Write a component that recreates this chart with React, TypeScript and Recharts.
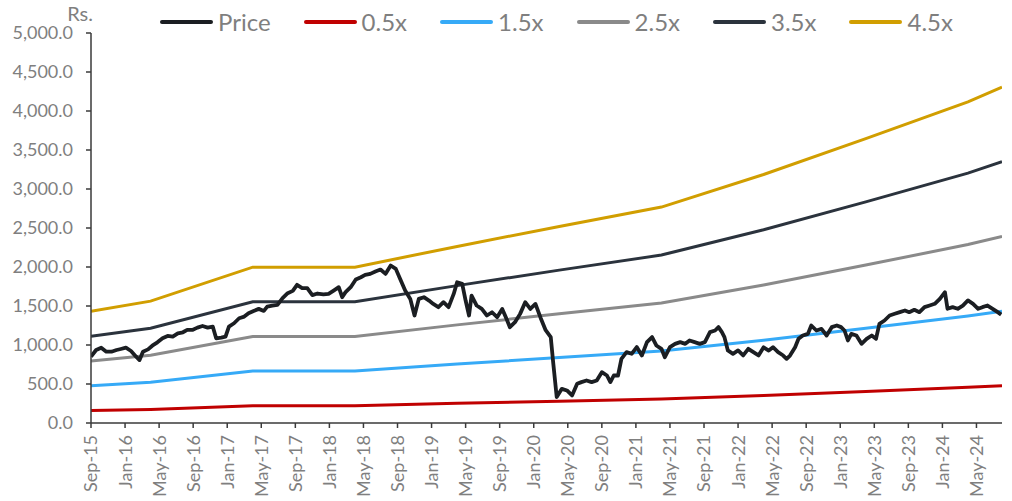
import { LineChart, Line, XAxis, YAxis } from "recharts";

// x positions are months counted from Sep-2015
const tickMonths = [0, 4, 8, 12, 16, 20, 24, 28, 32, 36, 40, 44, 48, 52, 56, 60, 64, 68, 72, 76, 80, 84, 88, 92, 96, 100, 104];
const tickLabels = [
  "Sep-15", "Jan-16", "May-16", "Sep-16", "Jan-17", "May-17", "Sep-17", "Jan-18", "May-18",
  "Sep-18", "Jan-19", "May-19", "Sep-19", "Jan-20", "May-20", "Sep-20", "Jan-21", "May-21",
  "Sep-21", "Jan-22", "May-22", "Sep-22", "Jan-23", "May-23", "Sep-23", "Jan-24", "May-24",
];
const yTicks = [0, 500, 1000, 1500, 2000, 2500, 3000, 3500, 4000, 4500, 5000];

const bandMonths = [0, 7, 19, 31, 43, 55, 67, 79, 91, 103, 107];
const band05 = [159, 174, 222, 222, 252, 280, 308, 354, 405, 458, 478];
const band15 = [477, 521, 666, 666, 755, 840, 923, 1062, 1215, 1373, 1433];
const band25 = [795, 868, 1110, 1110, 1258, 1400, 1538, 1770, 2025, 2288, 2390];
const band35 = [1113, 1215, 1554, 1554, 1761, 1960, 2153, 2478, 2835, 3203, 3350];
const band45 = [1431, 1562, 1998, 1998, 2264, 2520, 2768, 3186, 3645, 4118, 4305];

const pricePoints: [number, number][] = [
  [0.0, 850], [0.6, 936], [1.2, 966], [1.8, 914], [2.4, 914], [3.0, 936], [3.5, 949], [4.1, 966],
  [4.7, 923], [5.3, 850], [5.7, 807], [6.1, 914], [6.7, 944], [7.2, 991], [7.8, 1034], [8.4, 1086],
  [9.0, 1116], [9.6, 1107], [10.2, 1150], [10.8, 1163], [11.3, 1193], [11.9, 1193], [12.5, 1223],
  [13.1, 1244], [13.7, 1223], [14.3, 1236], [14.7, 1086], [15.3, 1094], [15.8, 1107], [16.2, 1236],
  [16.8, 1279], [17.4, 1343], [18.0, 1364], [18.5, 1407], [19.1, 1437], [19.7, 1463], [20.3, 1437],
  [20.7, 1493], [21.3, 1506], [21.9, 1514], [22.5, 1600], [23.1, 1664], [23.7, 1694], [24.2, 1771],
  [24.8, 1729], [25.4, 1729], [26.0, 1640], [26.6, 1660], [27.3, 1650], [27.9, 1655], [28.5, 1698],
  [29.1, 1741], [29.5, 1613], [29.9, 1677], [30.5, 1741], [31.1, 1839], [31.7, 1869], [32.2, 1899],
  [32.8, 1912], [33.4, 1942], [34.0, 1967], [34.6, 1912], [35.2, 2019], [35.8, 1976], [36.3, 1848],
  [36.9, 1698], [37.5, 1591], [38.0, 1378], [38.5, 1591], [39.1, 1613], [39.7, 1570], [40.2, 1527],
  [40.8, 1485], [41.4, 1549], [42.0, 1485], [42.6, 1655], [43.0, 1805], [43.6, 1784], [44.0, 1570],
  [44.4, 1378], [44.7, 1634], [45.3, 1506], [45.9, 1463], [46.5, 1378], [47.1, 1420], [47.7, 1356],
  [48.3, 1463], [48.8, 1335], [49.2, 1228], [49.8, 1292], [50.4, 1399], [51.0, 1549], [51.6, 1463],
  [52.2, 1527], [52.8, 1350], [53.4, 1190], [54.0, 1101], [54.3, 759], [54.7, 332], [55.3, 438],
  [55.9, 417], [56.5, 353], [57.1, 502], [57.6, 524], [58.2, 545], [58.8, 524], [59.4, 545],
  [60.0, 652], [60.6, 609], [61.0, 524], [61.4, 609], [61.9, 609], [62.3, 823], [62.9, 908],
  [63.5, 887], [64.1, 973], [64.7, 866], [65.3, 1037], [65.9, 1101], [66.4, 994], [67.0, 951],
  [67.4, 844], [68.0, 973], [68.6, 1015], [69.2, 1037], [69.8, 1015], [70.3, 1058], [70.9, 1037],
  [71.5, 1015], [72.1, 1037], [72.7, 1165], [73.3, 1186], [73.7, 1229], [74.1, 1165], [74.4, 1101],
  [74.8, 930], [75.4, 887], [76.0, 930], [76.6, 866], [77.2, 951], [77.8, 908], [78.4, 866],
  [79.0, 970], [79.6, 929], [80.1, 972], [80.7, 908], [81.3, 865], [81.7, 823], [82.1, 865],
  [82.7, 972], [83.1, 1079], [83.6, 1122], [84.2, 1143], [84.6, 1250], [85.2, 1186], [85.8, 1207],
  [86.4, 1122], [87.0, 1229], [87.6, 1250], [88.1, 1229], [88.5, 1186], [88.9, 1058], [89.3, 1143],
  [89.9, 1122], [90.5, 1015], [91.1, 1079], [91.7, 1122], [92.2, 1079], [92.6, 1271], [93.2, 1314],
  [93.8, 1378], [94.4, 1400], [95.0, 1421], [95.6, 1442], [96.1, 1421], [96.7, 1451], [97.3, 1421],
  [97.9, 1485], [98.5, 1506], [99.1, 1528], [99.7, 1592], [100.3, 1677], [100.6, 1464], [101.2, 1485],
  [101.8, 1464], [102.4, 1506], [103.0, 1571], [103.6, 1528], [104.2, 1464], [104.7, 1485],
  [105.3, 1506], [105.9, 1464], [106.5, 1421], [106.9, 1390],
];

const FONT = "Lato, 'Open Sans', sans-serif";
const TEXT_GREY = "#7f7f7f";
const AXIS = "#3a3a3a";
const PRICE_COLOR = "#1b1e22";

const series = [
  { key: "p05", name: "0.5x", values: band05, color: "#c00000" },
  { key: "p15", name: "1.5x", values: band15, color: "#36aaf7" },
  { key: "p25", name: "2.5x", values: band25, color: "#8a8a8a" },
  { key: "p35", name: "3.5x", values: band35, color: "#2b333d" },
  { key: "p45", name: "4.5x", values: band45, color: "#d19e00" },
];

const priceData = pricePoints.map(([m, v]) => ({ m, v }));

const legendItems = [
  { name: "Price", color: PRICE_COLOR },
  ...series.map((s) => ({ name: s.name, color: s.color })),
];

function MonthTick(props: any) {
  const { x, y, payload } = props;
  const idx = tickMonths.indexOf(payload.value);
  return (
    <g transform={`translate(${x},${y})`}>
      <text
        transform="rotate(-90)"
        x={-7}
        y={0}
        dy="0.36em"
        textAnchor="end"
        fill={TEXT_GREY}
        fontSize={18}
        fontFamily={FONT}
      >
        {tickLabels[idx]}
      </text>
    </g>
  );
}

const fmtY = (v: number) =>
  v.toLocaleString("en-US", { minimumFractionDigits: 1, maximumFractionDigits: 1 });

export default function App() {
  return (
    <div style={{ position: "absolute", left: 0, top: 0, width: 1012, height: 501, background: "#fff", fontFamily: FONT }}>
      <div style={{ position: "absolute", right: 1012 - 93, top: 0, fontSize: 20, color: TEXT_GREY, lineHeight: "26px" }}>
        Rs.
      </div>
      <div style={{ position: "absolute", left: 160, top: 7, display: "flex", alignItems: "center", fontSize: 24, color: TEXT_GREY, lineHeight: "30px" }}>
        {legendItems.map((it) => (
          <div key={it.name} style={{ display: "flex", alignItems: "center", marginRight: 33 }}>
            <span style={{ display: "inline-block", width: 53, height: 3.5, borderRadius: 2, background: it.color, marginRight: 5 }} />
            <span>{it.name}</span>
          </div>
        ))}
      </div>
      <LineChart width={1012} height={501} margin={{ top: 33, right: 10, bottom: 0, left: 0 }}>
        <XAxis
          type="number"
          dataKey="m"
          domain={[0, 107]}
          ticks={tickMonths}
          interval={0}
          allowDataOverflow
          height={78}
          tick={<MonthTick />}
          tickSize={5}
          tickMargin={0}
          stroke={AXIS}
          strokeWidth={1.5}
        />
        <YAxis
          type="number"
          domain={[0, 5000]}
          ticks={yTicks}
          interval={0}
          width={91}
          tickSize={5}
          tickMargin={13}
          tickFormatter={fmtY}
          tick={{ fill: TEXT_GREY, fontSize: 18, fontFamily: FONT }}
          stroke={AXIS}
          strokeWidth={1.5}
        />
        {series.map((s) => (
          <Line
            key={s.key}
            data={bandMonths.map((m, i) => ({ m, v: s.values[i] }))}
            dataKey="v"
            name={s.name}
            type="linear"
            stroke={s.color}
            strokeWidth={3}
            dot={false}
            isAnimationActive={false}
          />
        ))}
        <Line
          data={priceData}
          dataKey="v"
          name="Price"
          type="linear"
          stroke={PRICE_COLOR}
          strokeWidth={3.8}
          strokeLinejoin="round"
          dot={false}
          isAnimationActive={false}
        />
      </LineChart>
    </div>
  );
}
